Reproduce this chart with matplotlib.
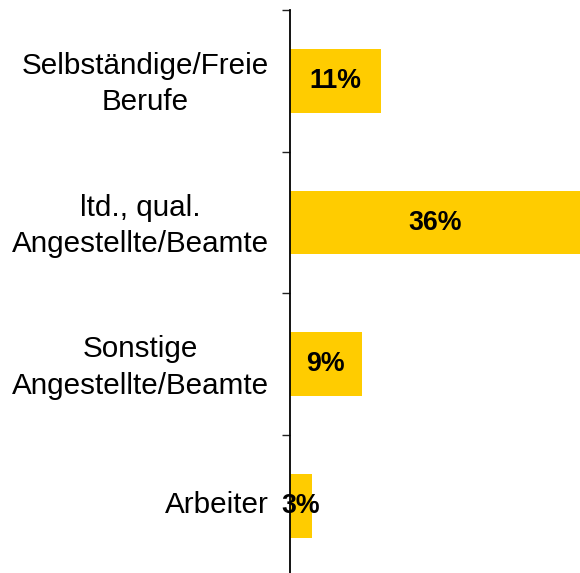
import matplotlib
matplotlib.use("Agg")
import matplotlib.pyplot as plt
import matplotlib.transforms as mtransforms
import numpy as np

# categories top to bottom
categories = [
    "Selbständige/Freie\nBerufe",
    "ltd., qual.\nAngestellte/Beamte",
    "Sonstige\nAngestellte/Beamte",
    "Arbeiter",
]
values = [11.4, 36.0, 9.0, 2.8]
value_labels = ["11%", "36%", "9%", "3%"]

BAR = "#FFCC00"
INK = "#000000"

plt.rcParams["font.family"] = ["Liberation Sans", "DejaVu Sans"]

fig = plt.figure(figsize=(5.8, 5.73), dpi=100, facecolor="white")
ax = fig.add_axes([289.5 / 580, 1 - 576.7 / 573, 1 - 289.5 / 580, 566.7 / 573])

y = np.arange(len(categories))
ax.barh(y, values, height=0.45, color=BAR, edgecolor="none")

for yi, v, lab in zip(y, values, value_labels):
    ax.text(v / 2, yi, lab, ha="center", va="center", fontsize=19.3,
            fontweight="bold", color=INK)

ax.set_xlim(0, 36)
ax.set_ylim(3.5, -0.5)

# boundaries as major ticks, category names on minor ticks
ax.set_yticks(np.arange(-0.5, len(categories), 1.0))
ax.set_yticklabels([])
ax.tick_params(axis="y", which="major", direction="out", length=6,
               width=1, color="#222222")
ax.set_yticks(y, minor=True)
ax.set_yticklabels(categories, minor=True, fontsize=21.3,
                   multialignment="center", linespacing=1.38)
ax.tick_params(axis="y", which="minor", length=0, pad=15)

# nudge category names up a little
shift = mtransforms.ScaledTranslation(0, 4 / 100, fig.dpi_scale_trans)
for lbl in ax.get_yticklabels(minor=True):
    lbl.set_transform(lbl.get_transform() + shift)

ax.set_xticks([])
for s in ("top", "right", "bottom"):
    ax.spines[s].set_visible(False)
ax.spines["left"].set_linewidth(1.3)
ax.spines["left"].set_color(INK)

fig.savefig("out.png", dpi=100, facecolor="white")
